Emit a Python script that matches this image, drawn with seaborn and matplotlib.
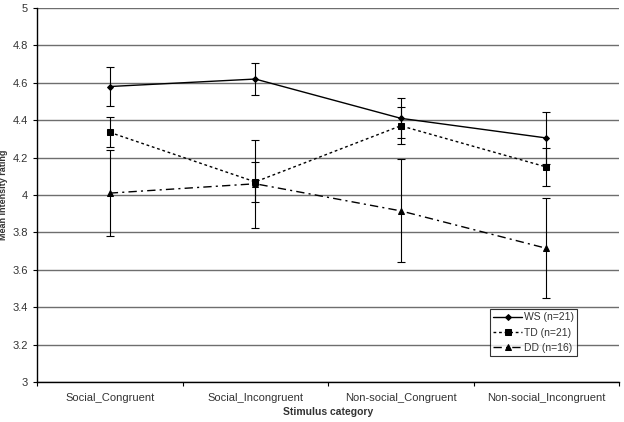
import matplotlib
matplotlib.use("Agg")
import matplotlib.pyplot as plt
import seaborn as sns
import pandas as pd

categories = ["Social_Congruent", "Social_Incongruent",
              "Non-social_Congruent", "Non-social_Incongruent"]
groups = ["WS (n=21)", "TD (n=21)", "DD (n=16)"]

ws_mean = [4.58, 4.62, 4.41, 4.305]
ws_err = [0.105, 0.085, 0.107, 0.14]
td_mean = [4.335, 4.07, 4.37, 4.15]
td_err = [0.08, 0.105, 0.10, 0.10]
dd_mean = [4.01, 4.06, 3.915, 3.715]
dd_err = [0.23, 0.235, 0.275, 0.267]

means = [ws_mean, td_mean, dd_mean]
errs = [ws_err, td_err, dd_err]

rows = []
for g, m, e in zip(groups, means, errs):
    for i, c in enumerate(categories):
        rows.append({"group": g, "pos": i, "category": c, "mean": m[i], "err": e[i]})
df = pd.DataFrame(rows)

sns.set_style("white")
plt.rcParams['font.family'] = ['Liberation Sans', 'DejaVu Sans']

fig = plt.figure(figsize=(6.24, 4.22), dpi=100)
ax = fig.add_axes([0.0593, 0.0948, 0.9327, 0.8863])

line_styles = {"WS (n=21)": "-", "TD (n=21)": (0, (2, 2)), "DD (n=16)": (0, (6, 3, 1.5, 3))}
markers = {"WS (n=21)": "D", "TD (n=21)": "s", "DD (n=16)": "^"}
msizes = {"WS (n=21)": 3, "TD (n=21)": 4.5, "DD (n=16)": 4.5}

for g in groups:
    sub = df[df["group"] == g]
    ax.errorbar(sub["pos"], sub["mean"], yerr=sub["err"], fmt="none",
                ecolor="black", elinewidth=0.8, capsize=3, capthick=0.8, zorder=3)
    sns.lineplot(data=sub, x="pos", y="mean", ax=ax, color="black", lw=1,
                 linestyle=line_styles[g], marker=markers[g], markersize=msizes[g],
                 markeredgecolor="black", markerfacecolor="black", label=g,
                 zorder=4)

ax.set_xlim(-0.5, 3.5)
ax.set_ylim(3, 5)
ax.set_yticks([3, 3.2, 3.4, 3.6, 3.8, 4, 4.2, 4.4, 4.6, 4.8, 5])
ax.set_yticklabels(["3", "3.2", "3.4", "3.6", "3.8", "4", "4.2", "4.4", "4.6", "4.8", "5"])
ax.yaxis.grid(True, color="#6e6e6e", lw=1)
ax.set_axisbelow(True)

ax.set_xticks([-0.5, 0.5, 1.5, 2.5, 3.5])
ax.set_xticklabels([])
ax.set_xticks(range(4), minor=True)
ax.set_xticklabels(categories, minor=True)
ax.tick_params(axis="x", which="major", length=3, direction="out", color="black", bottom=True)
ax.tick_params(axis="x", which="minor", length=0, pad=8, labelsize=8, labelcolor="#333333")
ax.tick_params(axis="y", length=3, direction="out", color="black", left=True,
               labelsize=8, labelcolor="#333333")

for s in ["top", "right"]:
    ax.spines[s].set_visible(False)
for s in ["left", "bottom"]:
    ax.spines[s].set_color("black")
    ax.spines[s].set_linewidth(1)

ax.set_xlabel("Stimulus category", fontsize=7.5, fontweight="bold", color="#333333", labelpad=3)
ax.set_ylabel("Mean intensity rating", fontsize=6.5, fontweight="bold", color="#333333")
ax.yaxis.set_label_coords(-0.05, 0.5)

leg = ax.legend(loc="upper left", bbox_to_anchor=(0.778, 0.196), frameon=True,
                fancybox=False, edgecolor="black", fontsize=7.5, handlelength=2.7,
                borderpad=0.35, labelspacing=0.5, handletextpad=0.2,
                borderaxespad=0)
leg.get_frame().set_linewidth(0.8)
for t in leg.get_texts():
    t.set_color("#333333")

fig.savefig("out.png", dpi=100)
